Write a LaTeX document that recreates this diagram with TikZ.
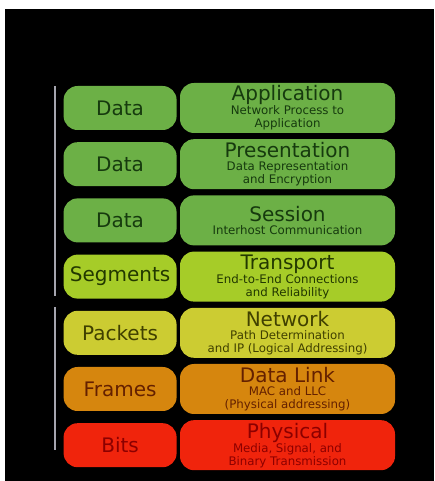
\documentclass[tikz,border=0pt]{standalone}
\usepackage{fontspec}
\setmainfont{DejaVu Sans}
\usepackage{xcolor}
\usepackage{tikz}
\usetikzlibrary{positioning}
\definecolor{grn}{RGB}{108,176,70}
\definecolor{grntxt}{RGB}{22,58,14}
\definecolor{lime}{RGB}{166,204,40}
\definecolor{limetxt}{RGB}{34,56,0}
\definecolor{olive}{RGB}{204,204,50}
\definecolor{olivetxt}{RGB}{64,64,0}
\definecolor{orng}{RGB}{214,134,14}
\definecolor{orngtxt}{RGB}{100,32,0}
\definecolor{redl}{RGB}{240,36,12}
\definecolor{redtxt}{RGB}{140,0,0}
\definecolor{brk}{RGB}{165,165,175}
\newcommand{\titlefnt}{\fontsize{20}{22}\selectfont}
\newcommand{\subfnt}{\fontsize{11.8}{13}\selectfont}
\tikzset{
  layer/.style={rounded corners=14pt, minimum width=215pt, minimum height=50pt,
    inner sep=0pt, align=center, font=\subfnt},
  pdu/.style={rounded corners=14pt, minimum width=113pt, minimum height=44pt,
    inner sep=0pt, font=\titlefnt},
  bracket/.style={draw=brk, line width=2.8pt}
}

\begin{document}
\begin{tikzpicture}[x=1pt,y=1pt]
  \useasboundingbox (0,0) rectangle (434,481);
  \fill[black] (5,0) rectangle (434,472);

  % OSI layers
  \node[layer, fill=grn, text=grntxt] (app) at (287.5,373)
    {{\titlefnt Application}\\Network Process to\\Application};
  \node[layer, fill=grn, text=grntxt, below=5.8pt of app] (pres)
    {{\titlefnt Presentation}\\Data Representation\\and Encryption};
  \node[layer, fill=grn, text=grntxt, below=5.8pt of pres] (sess)
    {{\titlefnt Session}\\Interhost Communication};
  \node[layer, fill=lime, text=limetxt, below=5.8pt of sess] (trans)
    {{\titlefnt Transport}\\End-to-End Connections\\and Reliability};
  \node[layer, fill=olive, text=olivetxt, below=5.8pt of trans] (net)
    {{\titlefnt Network}\\Path Determination\\and IP (Logical Addressing)};
  \node[layer, fill=orng, text=orngtxt, below=5.8pt of net] (link)
    {{\titlefnt Data Link}\\MAC and LLC\\(Physical addressing)};
  \node[layer, fill=redl, text=redtxt, below=5.8pt of link] (phys)
    {{\titlefnt Physical}\\Media, Signal, and\\Binary Transmission};

  % data units
  \node[pdu, fill=grn, text=grntxt, left=3pt of app] (appD) {Data};
  \node[pdu, fill=grn, text=grntxt, left=3pt of pres] (presD) {Data};
  \node[pdu, fill=grn, text=grntxt, left=3pt of sess] (sessD) {Data};
  \node[pdu, fill=lime, text=limetxt, left=3pt of trans] (transD) {Segments};
  \node[pdu, fill=olive, text=olivetxt, left=3pt of net] (netD) {Packets};
  \node[pdu, fill=orng, text=orngtxt, left=3pt of link] (linkD) {Frames};
  \node[pdu, fill=redl, text=redtxt, left=3pt of phys] (physD) {Bits};

  % host / media brackets
  \coordinate (hostT) at (55,395);
  \coordinate (hostB) at (55,185);
  \coordinate (mediaT) at (55,174);
  \coordinate (mediaB) at (55,31);
  \draw[bracket] (hostT) -- (hostB);
  \draw[bracket] (mediaT) -- (mediaB);
\end{tikzpicture}
\end{document}
